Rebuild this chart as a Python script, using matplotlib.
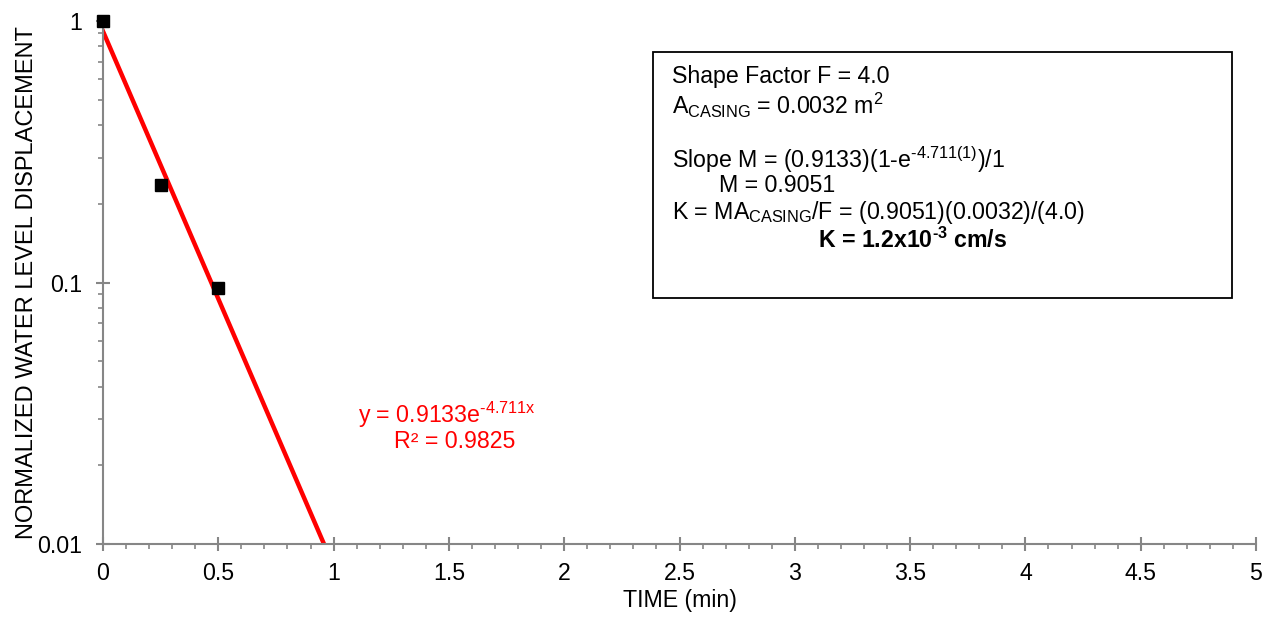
import numpy as np
import matplotlib.pyplot as plt
from matplotlib.ticker import MultipleLocator, LogLocator, NullFormatter, FixedFormatter, FixedLocator
from matplotlib.patches import Rectangle

plt.rcParams['font.family'] = ['Liberation Sans', 'DejaVu Sans']
plt.rcParams['mathtext.fontset'] = 'custom'
plt.rcParams['mathtext.rm'] = 'Liberation Sans'
plt.rcParams['mathtext.it'] = 'Liberation Sans:italic'
plt.rcParams['mathtext.bf'] = 'Liberation Sans:bold'

# measured data
t = [0.0, 0.25, 0.5]
disp = [1.0, 0.236, 0.095]

# exponential fit from the spreadsheet
a_fit = 0.9133
b_fit = -4.711
r2 = 0.9825

x_ticks = [0, 0.5, 1, 1.5, 2, 2.5, 3, 3.5, 4, 4.5, 5]
x_labels = ['0', '0.5', '1', '1.5', '2', '2.5', '3', '3.5', '4', '4.5', '5']
y_ticks = [0.01, 0.1, 1]
y_labels = ['0.01', '0.1', '1']

gray = '#868686'
fs = 16.7
hy = '\u2010'  # plain hyphen look inside superscripts

fig = plt.figure(figsize=(12.68, 6.2), dpi=100)
ax = fig.add_axes([103/1268, 1-544/620, (1256-103)/1268, (544-21)/620])

xf = np.linspace(0, 5, 400)
ax.plot(xf, a_fit*np.exp(b_fit*xf), color='#ff0000', lw=3.2, zorder=2)
ax.plot(t, disp, 's', color='black', ms=9, zorder=3, clip_on=False)

ax.set_yscale('log')
ax.set_xlim(0, 5)
ax.set_ylim(0.01, 1)

ax.xaxis.set_major_locator(FixedLocator(x_ticks))
ax.xaxis.set_major_formatter(FixedFormatter(x_labels))
ax.xaxis.set_minor_locator(MultipleLocator(0.1))
ax.yaxis.set_major_locator(FixedLocator(y_ticks))
ax.yaxis.set_major_formatter(FixedFormatter(y_labels))
ax.yaxis.set_minor_locator(LogLocator(base=10, subs=np.arange(2, 10)))
ax.yaxis.set_minor_formatter(NullFormatter())

for s in ['top', 'right']:
    ax.spines[s].set_visible(False)
for s in ['left', 'bottom']:
    ax.spines[s].set_color(gray)
    ax.spines[s].set_linewidth(1.5)

ax.tick_params(which='major', direction='inout', length=9.5, width=1.5, color=gray,
               labelsize=fs, labelcolor='black')
ax.tick_params(which='minor', direction='out', length=3.6, width=1.2, color=gray)
ax.tick_params(axis='x', which='major', pad=8)
ax.tick_params(axis='y', which='major', pad=10)

ax.set_xlabel('TIME (min)', fontsize=fs, labelpad=3)
ax.set_ylabel('NORMALIZED WATER LEVEL DISPLACEMENT', fontsize=17, labelpad=0)

# trendline label
ax.text(447/1268, 1-415/620, r'y = 0.9133e$^{\mathregular{%s4.711x}}$' % hy, transform=fig.transFigure,
        color='#ff0000', fontsize=fs, ha='center', va='center')
ax.text(455/1268, 1-441/620, 'R² = %.4f' % r2, transform=fig.transFigure,
        color='#ff0000', fontsize=fs, ha='center', va='center')

# text box
fig.add_artist(Rectangle((653/1268, 1-298/620), (1232-653)/1268, (298-52)/620,
                         transform=fig.transFigure, fill=False, edgecolor='black', lw=1.3))
lines = [
    (672, 77, 'Shape Factor F = 4.0', 'normal'),
    (672, 105, r'A$_{\mathregular{CASING}}$ = 0.0032 m$^{\mathregular{2}}$', 'normal'),
    (672, 160, r'Slope M = (0.9133)(1-e$^{\mathregular{%s4.711(1)}}$)/1' % hy, 'normal'),
    (719, 186, 'M = 0.9051', 'normal'),
    (672, 212, r'K = MA$_{\mathregular{CASING}}$/F = (0.9051)(0.0032)/(4.0)', 'normal'),
    (818, 240, r'K = 1.2x10$^{\mathbf{%s3}}$ cm/s' % hy, 'bold'),
]
for x, y, s, w in lines:
    fig.text(x/1268, 1-y/620, s, fontsize=fs, fontweight=w, ha='left', va='center')

fig.savefig('out.png', dpi=100)
